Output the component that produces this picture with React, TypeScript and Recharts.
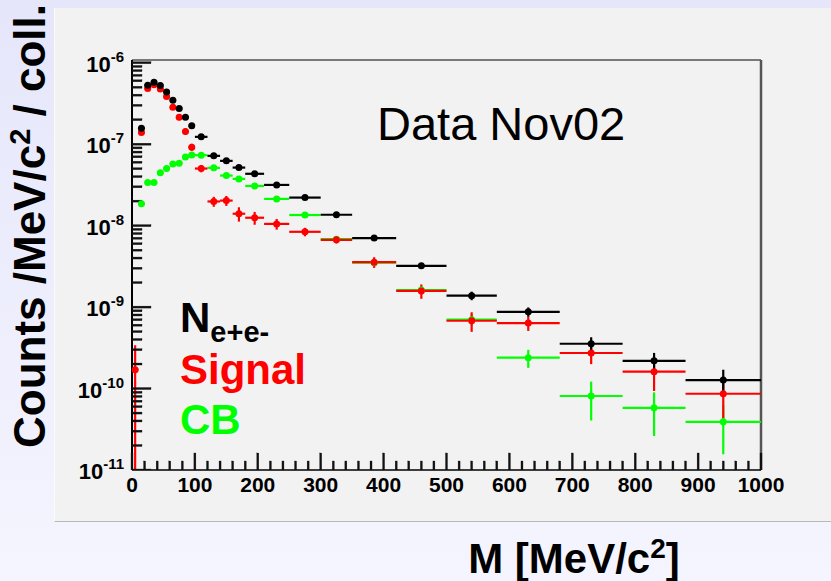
import { ScatterChart, Scatter, XAxis, YAxis, ErrorBar, ReferenceLine } from 'recharts'

// bin centres and half widths in MeV/c^2
const MASS = [5, 15, 25, 35, 45, 55, 65, 75, 85, 95, 110, 130, 150, 170, 195, 230, 275, 325, 385, 460, 540, 630, 730, 830, 940]
const HALF_WIDTH = [5, 5, 5, 5, 5, 5, 5, 5, 5, 5, 10, 10, 10, 10, 15, 20, 25, 25, 35, 40, 40, 50, 50, 50, 60]

// N e+e- (black)
const N_EE = [null, 1.57e-7, 5.3e-7, 5.77e-7, 5.24e-7, 4.38e-7, 3.47e-7, 2.74e-7, 2.14e-7, 1.68e-7, 1.23e-7, 7.19e-8, 6.24e-8, 5.16e-8, 4.33e-8, 3.16e-8, 2.21e-8, 1.36e-8, 7.03e-9, 3.21e-9, 1.38e-9, 8.75e-10, 3.55e-10, 2.19e-10, 1.27e-10]
const N_EE_ERR = [0, 0.06, 0.05, 0.05, 0.05, 0.05, 0.05, 0.05, 0.05, 0.05, 0.05, 0.05, 0.05, 0.05, 0.05, 0.05, 0.05, 0.05, 0.06, 0.08, 0.12, 0.13, 0.2, 0.25, 0.34]

// Signal (red)
const SIGNAL = [1.7e-10, 1.39e-7, 4.81e-7, 5.38e-7, 4.77e-7, 3.84e-7, 2.84e-7, 2.14e-7, 1.43e-7, 9.2e-8, 5.02e-8, 1.98e-8, 2.03e-8, 1.4e-8, 1.25e-8, 1.05e-8, 8.4e-9, 6.7e-9, 3.56e-9, 1.58e-9, 6.8e-10, 6.37e-10, 2.73e-10, 1.61e-10, 8.63e-11]
const SIGNAL_ERR = [1.0, 0.07, 0.06, 0.06, 0.06, 0.06, 0.07, 0.08, 0.09, 0.1, 0.1, 0.14, 0.14, 0.2, 0.18, 0.15, 0.12, 0.1, 0.15, 0.2, 0.27, 0.2, 0.27, 0.42, 0.5]

// combinatorial background (green)
const CB = [null, 1.85e-8, 3.38e-8, 3.38e-8, 4.45e-8, 5.02e-8, 5.73e-8, 5.85e-8, 6.98e-8, 7.39e-8, 7.32e-8, 5.12e-8, 4.12e-8, 3.75e-8, 3.07e-8, 2.13e-8, 1.35e-8, 6.82e-9, 3.5e-9, 1.62e-9, 7.0e-10, 2.39e-10, 8.1e-11, 5.8e-11, 3.9e-11]
const CB_ERR = [0, 0.06, 0.05, 0.05, 0.05, 0.05, 0.05, 0.05, 0.05, 0.05, 0.05, 0.05, 0.05, 0.05, 0.05, 0.05, 0.05, 0.06, 0.08, 0.1, 0.15, 0.25, 0.5, 0.55, 0.6]

const X_MAJOR = [0, 100, 200, 300, 400, 500, 600, 700, 800, 900, 1000]
const X_TICKS = Array.from({ length: 51 }, (_, i) => i * 20)
const Y_DECADES = [1e-11, 1e-10, 1e-9, 1e-8, 1e-7, 1e-6]
const Y_TICKS = Y_DECADES.flatMap((d) => (d < 1e-6 ? [1, 2, 3, 4, 5, 6, 7, 8, 9].map((k) => k * d) : [d]))

const Y_MIN = 1e-11
const Y_MAX = 1.08e-6
const FONT = '"Liberation Sans", Arial, Helvetica, sans-serif'

function buildSeries(values: (number | null)[], errs: number[]) {
  return MASS.flatMap((m, i) => {
    const v = values[i]
    if (v == null) return []
    const e = v * errs[i]
    return [{ m, v, ex: HALF_WIDTH[i], ey: [Math.min(e, v - Y_MIN * 1.001), e] }]
  })
}

const SERIES = [
  { name: 'CB', data: buildSeries(CB, CB_ERR), color: '#00ff00' },
  { name: 'Signal', data: buildSeries(SIGNAL, SIGNAL_ERR), color: '#ff0000' },
  { name: 'Nee', data: buildSeries(N_EE, N_EE_ERR), color: '#000000' },
]

const isDecade = (v: number) => {
  const exp = Math.round(Math.log10(v))
  return Math.abs(v - Math.pow(10, exp)) < v * 1e-6
}

// inward tick marks, placed on the axes through the chart scales
const Y_MAJOR_MARKS = Y_TICKS.filter(isDecade).map((t) => ({ m: 0, v: t }))
const Y_MINOR_MARKS = Y_TICKS.filter((t) => !isDecade(t)).map((t) => ({ m: 0, v: t }))
const X_MAJOR_MARKS = X_MAJOR.map((t) => ({ m: t, v: Y_MIN }))
const X_MINOR_MARKS = X_TICKS.filter((t) => !X_MAJOR.includes(t)).map((t) => ({ m: t, v: Y_MIN }))

const yMark = (len: number) => (p: any) => (
  <rect x={p.cx} y={p.cy - 1} width={len} height={2} fill="#111" stroke="#111" strokeWidth={0.3} />
)
const xMark = (len: number) => (p: any) => (
  <rect x={p.cx - 1} y={p.cy - len} width={2} height={len} fill="#111" stroke="#111" strokeWidth={0.3} />
)

function renderYTick(props: any) {
  const x = Number(props.x)
  const y = Number(props.y)
  const v = props.payload.value
  if (!isDecade(v)) return <g key={`yt-${props.index}`} />
  const exp = Math.round(Math.log10(v))
  return (
    <text key={`yt-${props.index}`} x={x - 8} y={y + 9} textAnchor="end" fontFamily={FONT} fontWeight="bold" fontSize={22} fill="#000" stroke="none">
      10<tspan dy={-10} fontSize={15}>{exp}</tspan>
    </text>
  )
}

function renderXTick(props: any) {
  const x = Number(props.x)
  const y = Number(props.y)
  if (!X_MAJOR.includes(props.payload.value)) return <g key={`xt-${props.index}`} />
  return (
    <text key={`xt-${props.index}`} x={x} y={y + 22} textAnchor="middle" fontFamily={FONT} fontWeight="bold" fontSize={21} fill="#000" stroke="none">
      {props.payload.value}
    </text>
  )
}

export default function App() {
  return (
    <div
      style={{
        position: 'absolute',
        left: 0,
        top: 0,
        width: 831,
        height: 581,
        overflow: 'hidden',
        background: 'linear-gradient(#e5e6fa, #f5f5ff)',
      }}
    >
      <div
        style={{
          position: 'absolute',
          left: 54,
          top: 8,
          width: 777,
          height: 514,
          background: '#f2f2f2',
          borderLeft: '1px solid #fbfbfb',
          borderBottom: '1px solid #b8b8b8',
          boxSizing: 'border-box',
        }}
      />
      <div style={{ position: 'absolute', left: 0, top: 0 }}>
        <ScatterChart width={831} height={581} margin={{ top: 60, right: 70, bottom: 0, left: 0 }}>
          <XAxis
            type="number"
            dataKey="m"
            domain={[0, 1000]}
            ticks={X_TICKS}
            interval={0}
            height={111}
            tickSize={0}
            tickMargin={0}
            tickLine={false}
            tick={renderXTick}
            axisLine={{ stroke: '#000', strokeWidth: 1.5 }}
          />
          <YAxis
            type="number"
            dataKey="v"
            scale="log"
            domain={[Y_MIN, Y_MAX]}
            allowDataOverflow
            ticks={Y_TICKS}
            interval={0}
            width={132}
            tickSize={0}
            tickMargin={0}
            tickLine={false}
            tick={renderYTick}
            axisLine={{ stroke: '#000', strokeWidth: 2 }}
          />
          <ReferenceLine y={Y_MAX} stroke="#000" strokeWidth={1.2} />
          <ReferenceLine x={1000} stroke="#555" strokeWidth={2.5} />
          <Scatter name="yMajor" data={Y_MAJOR_MARKS} isAnimationActive={false} shape={yMark(19)} />
          <Scatter name="yMinor" data={Y_MINOR_MARKS} isAnimationActive={false} shape={yMark(10)} />
          <Scatter name="xMajor" data={X_MAJOR_MARKS} isAnimationActive={false} shape={xMark(17)} />
          <Scatter name="xMinor" data={X_MINOR_MARKS} isAnimationActive={false} shape={xMark(9)} />
          {SERIES.map((s) => (
            <Scatter
              key={s.name}
              name={s.name}
              data={s.data}
              isAnimationActive={false}
              shape={(p: any) => <circle cx={p.cx} cy={p.cy} r={3.5} fill={s.color} />}
            >
              <ErrorBar dataKey="ex" direction="x" width={0} stroke={s.color} strokeWidth={2.2} isAnimationActive={false} />
              <ErrorBar dataKey="ey" direction="y" width={0} stroke={s.color} strokeWidth={2.2} isAnimationActive={false} />
            </Scatter>
          ))}
        </ScatterChart>
      </div>
      <svg width={831} height={581} style={{ position: 'absolute', left: 0, top: 0, pointerEvents: 'none' }}>
        <g fontFamily={FONT}>
          <text x={377} y={140} fontSize={47} fill="#000">Data Nov02</text>
          <text x={180} y={332} fontSize={42} fontWeight="bold" fill="#000">
            N<tspan dy={10} fontSize={29}>e+e-</tspan>
          </text>
          <text x={180} y={384} fontSize={42} fontWeight="bold" fill="#ff0000">Signal</text>
          <text x={180} y={434} fontSize={42} fontWeight="bold" fill="#00ff00">CB</text>
          <text x={574} y={573} textAnchor="middle" fontSize={42} fontWeight="bold" fill="#000">
            M [MeV/c<tspan dy={-15} fontSize={28}>2</tspan><tspan dy={15}>]</tspan>
          </text>
          <text
            transform="translate(45,226) rotate(-90)"
            textAnchor="middle"
            fontSize={44}
            fontWeight="bold"
            fill="#000"
          >
            Counts /MeV/c<tspan dy={-15} fontSize={29}>2</tspan><tspan dy={15}> / coll.</tspan>
          </text>
        </g>
      </svg>
    </div>
  )
}
